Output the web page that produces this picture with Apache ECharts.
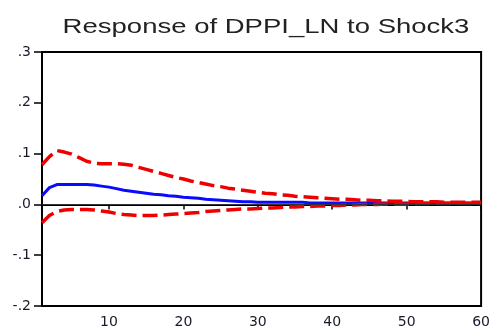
<!DOCTYPE html>
<html>
<head>
<meta charset="utf-8">
<script src="https://cdn.jsdelivr.net/npm/echarts@6/dist/echarts.min.js"></script>
<style>
html,body{margin:0;padding:0;background:#fff;}
#chart{width:493px;height:329px;}
</style>
</head>
<body>
<div id="chart"></div>
<script>
var titleText = "Response of DPPI_LN to Shock3";
var periods = [];
for (var p = 1; p <= 60; p++) periods.push(p);

var response = [0.017,0.033,0.039,0.039,0.039,0.039,0.039,0.038,0.036,0.034,
  0.031,0.028,0.026,0.024,0.022,0.020,0.019,0.017,0.016,0.014,
  0.013,0.012,0.010,0.009,0.008,0.007,0.006,0.005,0.005,0.004,
  0.004,0.004,0.004,0.004,0.004,0.004,0.003,0.003,0.003,0.003,
  0.003,0.003,0.003,0.003,0.003,0.003,0.003,0.003,0.003,0.003,
  0.003,0.003,0.003,0.003,0.003,0.003,0.003,0.003,0.003,0.003];

var upperBand = [0.078,0.094,0.106,0.103,0.099,0.092,0.085,0.081,0.080,0.080,
  0.080,0.079,0.077,0.073,0.069,0.065,0.061,0.057,0.053,0.050,
  0.046,0.043,0.040,0.037,0.035,0.032,0.030,0.028,0.026,0.024,
  0.022,0.021,0.019,0.018,0.016,0.015,0.014,0.013,0.012,0.011,
  0.010,0.010,0.009,0.008,0.008,0.007,0.007,0.006,0.006,0.006,
  0.005,0.005,0.005,0.005,0.004,0.004,0.004,0.004,0.004,0.004];

var lowerBand = [-0.036,-0.022,-0.014,-0.011,-0.010,-0.010,-0.010,-0.011,-0.013,-0.015,
  -0.018,-0.020,-0.021,-0.022,-0.022,-0.022,-0.021,-0.020,-0.019,-0.018,
  -0.017,-0.016,-0.014,-0.013,-0.012,-0.011,-0.010,-0.009,-0.009,-0.008,
  -0.007,-0.007,-0.006,-0.005,-0.005,-0.004,-0.004,-0.003,-0.003,-0.002,
  -0.002,-0.001,-0.001,0.000,0.000,0.000,0.001,0.001,0.001,0.001,
  0.001,0.002,0.002,0.002,0.002,0.002,0.002,0.002,0.002,0.002];

var yMin = -0.2, yMax = 0.3, yStep = 0.1;

var chart = echarts.init(document.getElementById('chart'), null, {renderer: 'canvas'});
function tenth(i, v) { return Number(v) % 10 === 0; }
chart.setOption({
  animation: false,
  backgroundColor: '#ffffff',
  graphic: [{
    type: 'text',
    x: 266, y: 27,
    scaleX: 1.31,
    style: {
      text: titleText,
      font: '21px "Liberation Sans", Arial, sans-serif',
      fill: '#222',
      textAlign: 'center',
      textVerticalAlign: 'middle'
    }
  }],
  grid: {
    left: 42, right: 6, top: 52, bottom: 22,
    show: true, borderColor: '#000', borderWidth: 2, backgroundColor: 'transparent'
  },
  xAxis: {
    type: 'category',
    data: periods,
    boundaryGap: false,
    axisLine: {show: true, lineStyle: {color: '#000', width: 2}},
    axisTick: {show: true, interval: tenth, length: 5, lineStyle: {color: '#000', width: 1.5}},
    axisLabel: {interval: tenth, margin: 9, color: '#1a1a2a', fontSize: 14, fontFamily: '"DejaVu Sans", sans-serif'},
    splitLine: {show: false}
  },
  yAxis: {
    type: 'value',
    min: yMin, max: yMax, interval: yStep,
    axisLine: {show: true, lineStyle: {color: '#000', width: 2}},
    axisTick: {show: true, length: 8, lineStyle: {color: '#000', width: 1.5}},
    axisLabel: {
      margin: 11, color: '#1a1a2a', fontSize: 14, fontFamily: '"DejaVu Sans", sans-serif',
      formatter: function (v) { return v.toFixed(1).replace('0.', '.'); }
    },
    splitLine: {show: false}
  },
  series: [
    {
      type: 'line', data: upperBand, showSymbol: false, z: 3,
      lineStyle: {color: '#ee0000', width: 3.5, type: [15, 6]}
    },
    {
      type: 'line', data: lowerBand, showSymbol: false, z: 3,
      lineStyle: {color: '#ee0000', width: 3.5, type: [15, 6]}
    },
    {
      type: 'line', data: response, showSymbol: false, z: 2,
      lineStyle: {color: '#0a0aff', width: 3},
      markLine: {
        silent: true, symbol: 'none', label: {show: false},
        lineStyle: {color: '#333', width: 1, type: 'solid'},
        data: [{yAxis: 0}]
      }
    }
  ]
});
</script>
</body>
</html>
